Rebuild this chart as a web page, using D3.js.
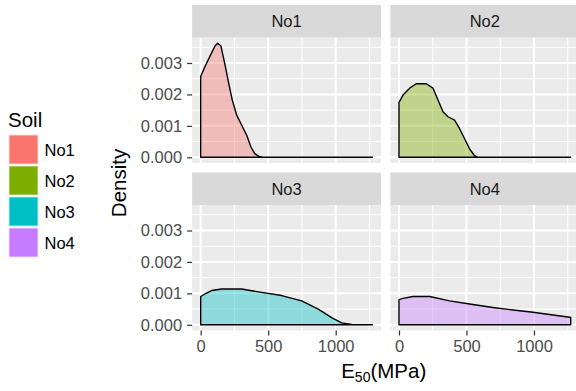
<!DOCTYPE html>
<html>
<head>
<meta charset="utf-8">
<script src="https://cdn.jsdelivr.net/npm/d3@7"></script>
<style>
  body { margin: 0; background: #fff; }
  svg { font-family: "Liberation Sans", Arial, sans-serif; display: block; }
</style>
</head>
<body>
<svg id="chart" width="576" height="391"></svg>
<script>
// soils and their colours (ggplot default hue palette)
var soils = ["No1", "No2", "No3", "No4"];
var soilColors = ["#F8766D", "#7CAE00", "#00BFC4", "#C77CFF"];

// density curves: E50 (MPa) and density
var no1E       = [0, 32, 69, 106, 126, 150, 180, 205, 234, 267, 304, 341, 373, 402, 432, 460, 1272];
var no1Density = [0.00257, 0.00289, 0.00322, 0.00354, 0.00363, 0.00354, 0.00295, 0.00241, 0.00182, 0.00134, 0.00102, 0.0007, 0.00032, 0.00011, 0.00003, 0, 0];

var no2E       = [0, 30, 79, 128, 202, 252, 289, 326, 363, 412, 449, 486, 523, 560, 585, 1272];
var no2Density = [0.00175, 0.00198, 0.0022, 0.00234, 0.00234, 0.0022, 0.00182, 0.00145, 0.00129, 0.00118, 0.00091, 0.00059, 0.00027, 0.00005, 0, 0];

var no3E       = [0, 32, 81, 155, 304, 452, 600, 748, 871, 970, 1044, 1118, 1150, 1272];
var no3Density = [0.0009, 0.00098, 0.00109, 0.00114, 0.00114, 0.00103, 0.00093, 0.00076, 0.0005, 0.00023, 0.00006, 0.00001, 0, 0];

var no4E       = [0, 30, 104, 227, 375, 523, 696, 844, 993, 1141, 1264, 1272];
var no4Density = [0.0008, 0.00084, 0.0009, 0.0009, 0.00076, 0.00066, 0.00055, 0.00047, 0.0004, 0.00031, 0.00024, 0.00024];

var xTicks = [0, 500, 1000];
var xMinor = [250, 750, 1250];
var yTicks = [0, 0.001, 0.002, 0.003];
var yMinor = [0.0005, 0.0015, 0.0025, 0.0035];

var curves = [[no1E, no1Density], [no2E, no2Density], [no3E, no3Density], [no4E, no4Density]];

var svg = d3.select("#chart");

var panelW = 188.9, panelH = 125.5, stripH = 32.5;
var colX = [192.1, 390.4];
var rowY = [5, 172.5];   // strip tops

var xMax = d3.max(curves, function(c) { return d3.max(c[0]); });
var yMax = d3.max(curves, function(c) { return d3.max(c[1]); });
var xPad = xMax * 0.05, yPad = yMax * 0.05;

var x = d3.scaleLinear().domain([-xPad, xMax + xPad]).range([0, panelW]);
var y = d3.scaleLinear().domain([-yPad, yMax + yPad]).range([panelH, 0]);

var fontAxis = 16.5, fontTitle = 20.5;

soils.forEach(function(soil, i) {
  var col = i % 2, row = Math.floor(i / 2);
  var g = svg.append("g")
    .attr("transform", "translate(" + colX[col] + "," + (rowY[row] + stripH) + ")");

  // strip
  svg.append("rect")
    .attr("x", colX[col]).attr("y", rowY[row])
    .attr("width", panelW).attr("height", stripH)
    .attr("fill", "#D9D9D9");
  svg.append("text")
    .attr("x", colX[col] + panelW / 2).attr("y", rowY[row] + stripH / 2)
    .attr("dy", "0.36em")
    .attr("text-anchor", "middle")
    .attr("fill", "#1A1A1A")
    .style("font-size", fontAxis + "px")
    .text(soil);

  // panel background + grid
  g.append("rect").attr("width", panelW).attr("height", panelH).attr("fill", "#EBEBEB");

  g.selectAll(".xminor").data(xMinor).enter().append("line")
    .attr("x1", function(d) { return x(d); }).attr("x2", function(d) { return x(d); })
    .attr("y1", 0).attr("y2", panelH)
    .attr("stroke", "#fff").attr("stroke-width", 1);
  g.selectAll(".yminor").data(yMinor).enter().append("line")
    .attr("x1", 0).attr("x2", panelW)
    .attr("y1", function(d) { return y(d); }).attr("y2", function(d) { return y(d); })
    .attr("stroke", "#fff").attr("stroke-width", 1);
  g.selectAll(".xmajor").data(xTicks).enter().append("line")
    .attr("x1", function(d) { return x(d); }).attr("x2", function(d) { return x(d); })
    .attr("y1", 0).attr("y2", panelH)
    .attr("stroke", "#fff").attr("stroke-width", 2);
  g.selectAll(".ymajor").data(yTicks).enter().append("line")
    .attr("x1", 0).attr("x2", panelW)
    .attr("y1", function(d) { return y(d); }).attr("y2", function(d) { return y(d); })
    .attr("stroke", "#fff").attr("stroke-width", 2);

  // density polygon (outline drawn all round, like older ggplot)
  var pts = curves[i][0].map(function(e, k) { return [e, curves[i][1][k]]; });
  var area = d3.area()
    .x(function(d) { return x(d[0]); })
    .y0(y(0))
    .y1(function(d) { return y(d[1]); });
  g.append("path")
    .datum(pts)
    .attr("d", area)
    .attr("fill", soilColors[i])
    .attr("fill-opacity", 0.4)
    .attr("stroke", "#000")
    .attr("stroke-width", 1.4)
    .attr("stroke-linejoin", "round");

  // y axis on left column
  if (col === 0) {
    var ya = g.append("g")
      .call(d3.axisLeft(y).tickValues(yTicks).tickFormat(d3.format(".3f")).tickSize(5).tickPadding(5));
    ya.select(".domain").remove();
    ya.selectAll("line").attr("stroke", "#333").attr("stroke-width", 1.2);
    ya.selectAll("text").attr("fill", "#4D4D4D").style("font-size", fontAxis + "px")
      .style("font-family", "'Liberation Sans', Arial, sans-serif");
  }
  // x axis on bottom row
  if (row === 1) {
    var xa = g.append("g")
      .attr("transform", "translate(0," + panelH + ")")
      .call(d3.axisBottom(x).tickValues(xTicks).tickFormat(d3.format("d")).tickSize(5).tickPadding(5));
    xa.select(".domain").remove();
    xa.selectAll("line").attr("stroke", "#333").attr("stroke-width", 1.2);
    xa.selectAll("text").attr("fill", "#4D4D4D").style("font-size", fontAxis + "px")
      .style("font-family", "'Liberation Sans', Arial, sans-serif");
  }
});

// axis titles
var xt = svg.append("text")
  .attr("x", (colX[0] + colX[1] + panelW) / 2 - 2).attr("y", 378)
  .attr("text-anchor", "middle")
  .attr("fill", "#000")
  .style("font-size", fontTitle + "px");
xt.append("tspan").text("E");
xt.append("tspan").attr("dy", 4).style("font-size", "14px").text("50");
xt.append("tspan").attr("dy", -4).text("(MPa)");

svg.append("text")
  .attr("transform", "translate(126,183) rotate(-90)")
  .attr("text-anchor", "middle")
  .attr("fill", "#000")
  .style("font-size", fontTitle + "px")
  .text("Density");

// legend
var legend = svg.append("g").attr("transform", "translate(8,0)");
legend.append("text")
  .attr("x", 0).attr("y", 126.5)
  .attr("fill", "#000")
  .style("font-size", fontTitle + "px")
  .text("Soil");

var keyY = d3.scaleBand().domain(soils).range([134, 258]);
soils.forEach(function(soil, i) {
  legend.append("rect")
    .attr("x", 0.8).attr("y", keyY(soil) + 0.8)
    .attr("width", 29.4).attr("height", keyY.bandwidth() - 1.6)
    .attr("fill", soilColors[i])
    .attr("stroke", "#fff").attr("stroke-opacity", 0.55).attr("stroke-width", 1.6);
  legend.append("text")
    .attr("x", 36.5).attr("y", keyY(soil) + keyY.bandwidth() / 2)
    .attr("dy", "0.38em")
    .attr("fill", "#000")
    .style("font-size", fontAxis + "px")
    .text(soil);
});
</script>
</body>
</html>
